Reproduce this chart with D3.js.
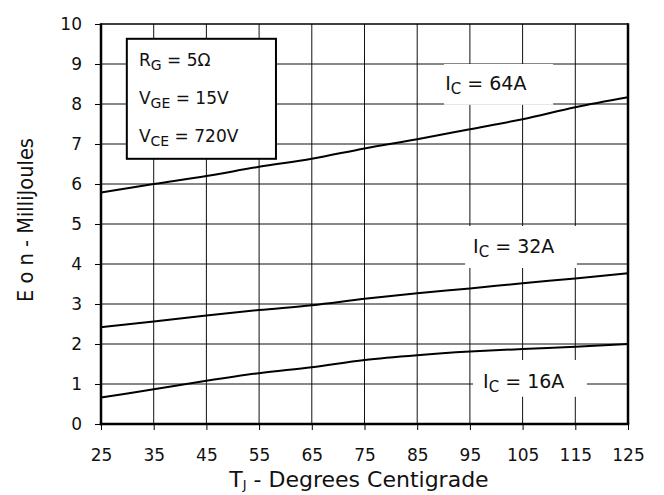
<!DOCTYPE html>
<html>
<head>
  <meta charset="utf-8">
  <script src="https://d3js.org/d3.v7.min.js"></script>
  <style>
    body { margin: 0; background: #fff; }
    text { font-family: "DejaVu Sans", "Liberation Sans", Arial, sans-serif; fill: #111; }
  </style>
</head>
<body>
  <script>
    // data
    const temps = [25, 35, 45, 55, 65, 75, 85, 95, 105, 115, 125];
    const eon64 = [5.79, 6.0, 6.2, 6.43, 6.63, 6.89, 7.12, 7.37, 7.62, 7.92, 8.17];
    const eon32 = [2.42, 2.56, 2.71, 2.85, 2.97, 3.13, 3.27, 3.39, 3.52, 3.64, 3.77];
    const eon16 = [0.66, 0.87, 1.08, 1.27, 1.42, 1.6, 1.72, 1.81, 1.875, 1.93, 2.0];
    const xTicks = [25, 35, 45, 55, 65, 75, 85, 95, 105, 115, 125];
    const yTicks = [0, 1, 2, 3, 4, 5, 6, 7, 8, 9, 10];

    const width = 664, height = 495;
    const margin = {top: 24, right: 36, bottom: 71, left: 101};

    const svg = d3.select("body").append("svg")
      .attr("width", width)
      .attr("height", height);

    const x = d3.scaleLinear().domain([25, 125]).range([margin.left, width - margin.right]);
    const y = d3.scaleLinear().domain([0, 10]).range([height - margin.bottom, margin.top]);

    //Grid
    svg.append("g").selectAll("line")
      .data(xTicks.slice(1, -1))
      .join("line")
      .attr("x1", d => x(d)).attr("x2", d => x(d))
      .attr("y1", y(0)).attr("y2", y(10))
      .attr("stroke", "#111").attr("stroke-width", 1);

    svg.append("g").selectAll("line")
      .data(yTicks.slice(1, -1))
      .join("line")
      .attr("x1", x(25)).attr("x2", x(125))
      .attr("y1", d => y(d)).attr("y2", d => y(d))
      .attr("stroke", "#111").attr("stroke-width", 1);

    //Label backgrounds that cut the grid
    const curveLabels = [
      {t0: 90.1, t1: 110.8, v0: 7.98, v1: 9.0, tx: 90.3, ty: 8.35, ic: "64A"},
      {t0: 94.1, t1: 115.3, v0: 3.9, v1: 4.95, tx: 95.6, ty: 4.28, ic: "32A"},
      {t0: 95.6, t1: 117.2, v0: 0.68, v1: 1.6, tx: 97.5, ty: 0.9, ic: "16A"}
    ];

    svg.append("g").selectAll("rect")
      .data(curveLabels)
      .join("rect")
      .attr("x", d => x(d.t0)).attr("width", d => x(d.t1) - x(d.t0))
      .attr("y", d => y(d.v1)).attr("height", d => y(d.v0) - y(d.v1))
      .attr("fill", "#fff");

    //Curves
    const line = d3.line()
      .x((d, i) => x(temps[i]))
      .y(d => y(d))
      .curve(d3.curveMonotoneX);

    svg.append("g").selectAll("path")
      .data([eon64, eon32, eon16])
      .join("path")
      .attr("d", line)
      .attr("fill", "none")
      .attr("stroke", "#000")
      .attr("stroke-width", 2);

    //Curve labels
    const lbl = svg.append("g").selectAll("text")
      .data(curveLabels)
      .join("text")
      .attr("x", d => x(d.tx)).attr("y", d => y(d.ty))
      .attr("font-size", 19);
    lbl.append("tspan").text("I");
    lbl.append("tspan").attr("font-size", 15).attr("dy", 4).text("C");
    lbl.append("tspan").attr("dy", -4).text(d => " = " + d.ic);

    //Axes
    const xAxis = svg.append("g")
      .attr("transform", "translate(0," + y(0) + ")")
      .call(d3.axisBottom(x).tickValues(xTicks).tickSize(6).tickPadding(19).tickFormat(d3.format("d")));
    xAxis.select(".domain").remove();
    xAxis.selectAll("line").attr("stroke", "#000").attr("stroke-width", 1);
    xAxis.selectAll("text").attr("font-size", 17).attr("fill", "#111");

    const yAxis = svg.append("g")
      .attr("transform", "translate(" + x(25) + ",0)")
      .call(d3.axisLeft(y).tickValues(yTicks).tickSize(6).tickPadding(13).tickFormat(d3.format("d")));
    yAxis.select(".domain").remove();
    yAxis.selectAll("line").attr("stroke", "#000").attr("stroke-width", 1);
    yAxis.selectAll("text").attr("font-size", 17).attr("fill", "#111");

    //Frame
    svg.append("line").attr("x1", x(25)).attr("x2", x(125)).attr("y1", y(10)).attr("y2", y(10))
      .attr("stroke", "#000").attr("stroke-width", 1.5);
    svg.append("line").attr("x1", x(125)).attr("x2", x(125)).attr("y1", y(10) - 0.75).attr("y2", y(0))
      .attr("stroke", "#000").attr("stroke-width", 2.5);
    svg.append("line").attr("x1", x(25)).attr("x2", x(25)).attr("y1", y(10) - 0.75).attr("y2", y(0) + 1.25)
      .attr("stroke", "#000").attr("stroke-width", 2.5);
    svg.append("line").attr("x1", x(25) - 1.25).attr("x2", x(125) + 1.25).attr("y1", y(0)).attr("y2", y(0))
      .attr("stroke", "#000").attr("stroke-width", 2.5);

    //Parameter box
    const params = [
      {main: "R", sub: "G", rest: " = 5\u03A9", v: 8.95},
      {main: "V", sub: "GE", rest: " = 15V", v: 8.0},
      {main: "V", sub: "CE", rest: " = 720V", v: 7.05}
    ];
    svg.append("rect")
      .attr("x", x(29.9)).attr("width", x(58.2) - x(29.9))
      .attr("y", y(9.63)).attr("height", y(6.63) - y(9.63))
      .attr("fill", "#fff").attr("stroke", "#000").attr("stroke-width", 2);
    const pt = svg.append("g").selectAll("text")
      .data(params)
      .join("text")
      .attr("x", x(32.2)).attr("y", d => y(d.v))
      .attr("font-size", 17);
    pt.append("tspan").text(d => d.main);
    pt.append("tspan").attr("font-size", 14).attr("dy", 4).text(d => d.sub);
    pt.append("tspan").attr("dy", -4).text(d => d.rest);

    //Axis titles
    const xt = svg.append("text")
      .attr("x", 359).attr("y", 487)
      .attr("text-anchor", "middle").attr("font-size", 22);
    xt.append("tspan").text("T");
    xt.append("tspan").attr("font-size", 13).attr("dy", 2).text("J");
    xt.append("tspan").attr("dy", -2).text(" - Degrees Centigrade");

    svg.append("text")
      .attr("transform", "translate(33,220) rotate(-90)")
      .attr("text-anchor", "middle").attr("font-size", 21)
      .attr("textLength", 164).attr("lengthAdjust", "spacingAndGlyphs")
      .text("E o n - MilliJoules");
  </script>
</body>
</html>
